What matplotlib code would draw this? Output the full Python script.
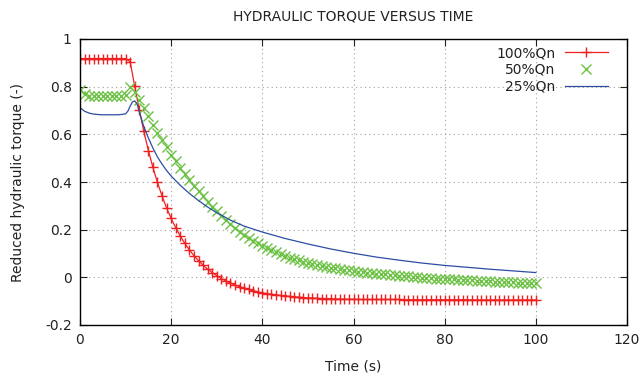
import numpy as np
import matplotlib
matplotlib.use("Agg")
import matplotlib.pyplot as plt

# time base for the marked series (one sample per second)
time = np.arange(0, 101, 1)

torque100 = [0.918, 0.918, 0.918, 0.918, 0.918, 0.918, 0.918, 0.918, 0.918, 0.918,
             0.918, 0.905, 0.802, 0.703, 0.612, 0.532, 0.461, 0.398, 0.341, 0.291,
             0.247, 0.208, 0.173, 0.142, 0.115, 0.091, 0.070, 0.051, 0.034, 0.020,
             0.007, -0.005, -0.015, -0.024, -0.032, -0.039, -0.046, -0.051, -0.056, -0.061,
             -0.065, -0.068, -0.071, -0.074, -0.076, -0.078, -0.080, -0.082, -0.083, -0.085,
             -0.086, -0.087, -0.088, -0.089, -0.089, -0.090, -0.091, -0.091, -0.092, -0.092,
             -0.092, -0.093, -0.093, -0.093, -0.093, -0.093, -0.093, -0.093, -0.093, -0.093,
             -0.093, -0.094, -0.094, -0.094, -0.094, -0.094, -0.094, -0.094, -0.094, -0.094,
             -0.094, -0.094, -0.094, -0.094, -0.094, -0.094, -0.095, -0.095, -0.095, -0.095,
             -0.095, -0.095, -0.095, -0.095, -0.095, -0.095, -0.095, -0.095, -0.095, -0.095,
             -0.095]

torque50 = [0.785, 0.770, 0.762, 0.761, 0.762, 0.761, 0.762, 0.761, 0.762, 0.762,
            0.765, 0.800, 0.778, 0.745, 0.710, 0.675, 0.640, 0.607, 0.575, 0.545,
            0.515, 0.487, 0.460, 0.434, 0.409, 0.385, 0.362, 0.340, 0.318, 0.297,
            0.277, 0.258, 0.240, 0.223, 0.207, 0.192, 0.178, 0.165, 0.153, 0.142,
            0.132, 0.122, 0.113, 0.105, 0.097, 0.090, 0.083, 0.077, 0.071, 0.066,
            0.061, 0.056, 0.052, 0.048, 0.044, 0.041, 0.038, 0.035, 0.032, 0.029,
            0.027, 0.024, 0.022, 0.020, 0.018, 0.016, 0.014, 0.012, 0.010, 0.008,
            0.007, 0.005, 0.004, 0.002, 0.001, -0.001, -0.002, -0.003, -0.005, -0.006,
            -0.007, -0.008, -0.009, -0.010, -0.011, -0.012, -0.013, -0.014, -0.015, -0.016,
            -0.017, -0.018, -0.019, -0.019, -0.020, -0.021, -0.022, -0.022, -0.023, -0.024,
            -0.025]

time25 = [0, 1, 2, 3, 4, 5, 6, 7, 8, 9, 10, 10.5, 11, 11.5, 12, 12.5, 13, 14, 15, 16,
          17, 18, 19, 20, 22, 24, 26, 28, 30, 33, 36, 40, 45, 50, 55, 60, 65, 70, 75, 80,
          85, 90, 95, 100]
torque25 = [0.712, 0.697, 0.689, 0.685, 0.683, 0.682, 0.682, 0.682, 0.682, 0.683, 0.686,
            0.697, 0.718, 0.736, 0.740, 0.728, 0.695, 0.632, 0.585, 0.542, 0.505, 0.475,
            0.448, 0.425, 0.386, 0.352, 0.322, 0.295, 0.271, 0.240, 0.215, 0.190, 0.163,
            0.140, 0.119, 0.101, 0.085, 0.072, 0.060, 0.050, 0.042, 0.034, 0.027, 0.020]

fig = plt.figure(figsize=(6.44, 3.78), dpi=100)
ax = fig.add_axes([80/644, 53/378, 547/644, 286/378])

ax.plot(time, torque100, color='#f02020', linewidth=0.9, marker='+', markersize=7.5,
        markeredgewidth=1.0, label='100%Qn')
ax.plot(time, torque50, linestyle='none', color='#6cc244', marker='x', markersize=7.5,
        markeredgewidth=1.0, label='50%Qn')
ax.plot(time25, torque25, color='#2b4da3', linewidth=0.9, label='25%Qn')

ax.set_xlim(0, 120)
ax.set_ylim(-0.2, 1)
ax.set_xticks(np.arange(0, 121, 20))
ax.set_yticks(np.arange(-0.2, 1.01, 0.2))
ax.set_yticklabels(['-0.2', '0', '0.2', '0.4', '0.6', '0.8', '1'])

ax.tick_params(direction='in', length=5, width=0.8, top=True, right=True,
               labelsize=10, colors='#222222', pad=6)
ax.grid(True, color='#a0a0a0', linestyle=(0, (1, 3)), linewidth=0.8)
for s in ax.spines.values():
    s.set_linewidth(1.0)

ax.set_title('HYDRAULIC TORQUE VERSUS TIME', fontsize=10, pad=13, color='#222222')
ax.set_xlabel('Time (s)', fontsize=10, labelpad=9, color='#222222')
ax.set_ylabel('Reduced hydraulic torque (-)', fontsize=10, labelpad=14, color='#222222')

leg = ax.legend(loc='upper right', bbox_to_anchor=(0.9653, 0.975), frameon=False,
                markerfirst=False, numpoints=1, fontsize=10, handlelength=3.1,
                handletextpad=0.7, labelspacing=0.2, borderpad=0, borderaxespad=0)
for t in leg.get_texts():
    t.set_color('#222222')

fig.savefig('out.png', dpi=100)
